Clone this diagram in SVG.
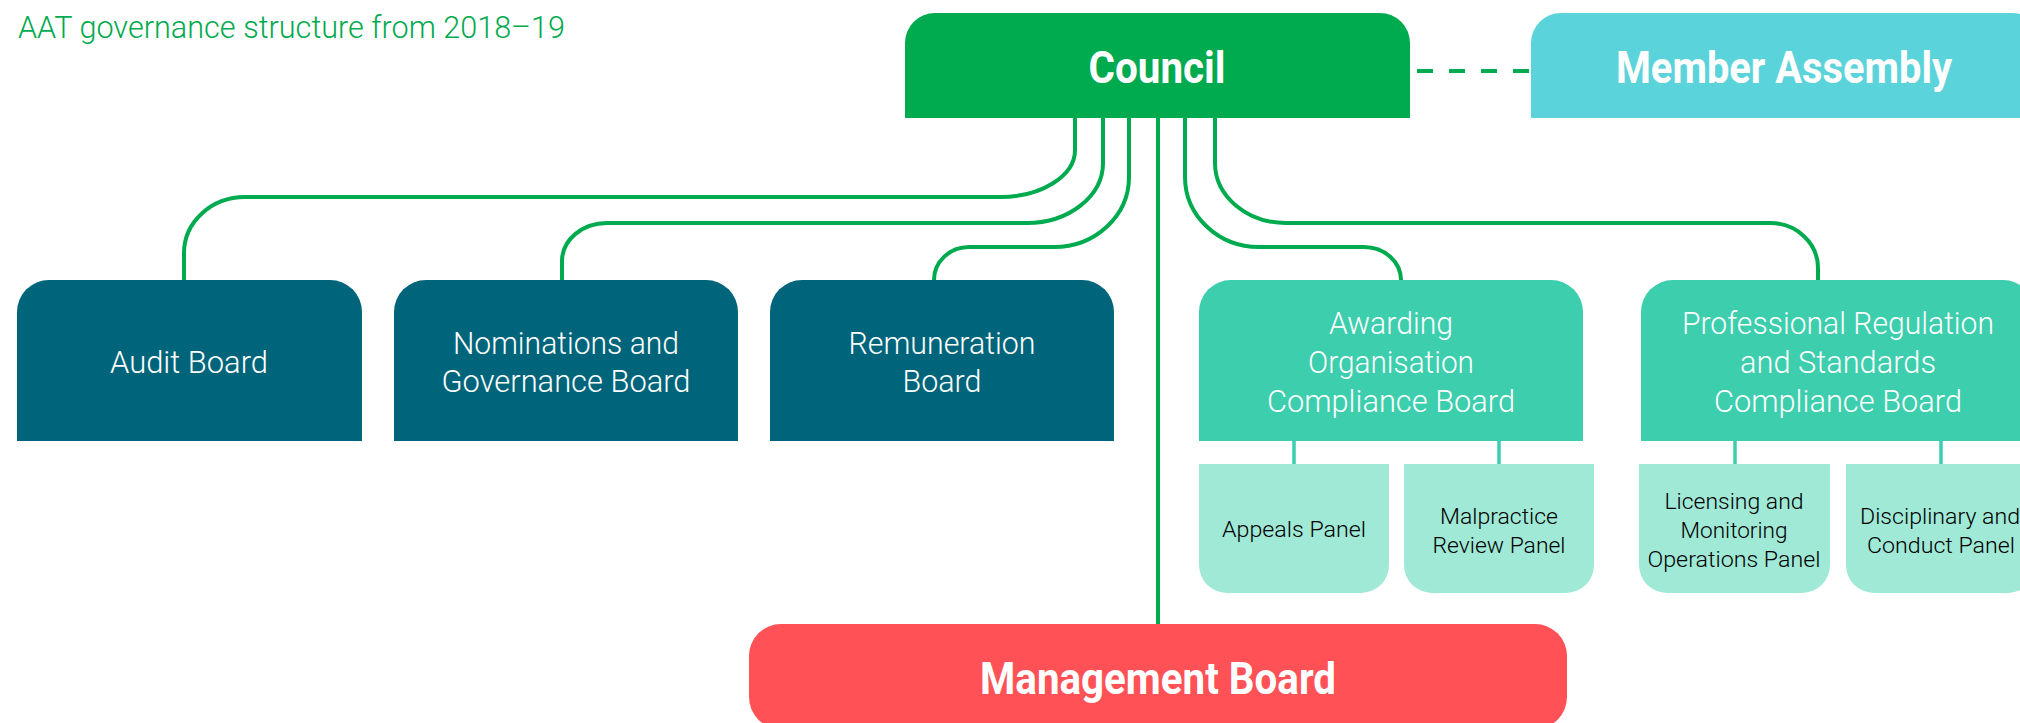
<svg xmlns="http://www.w3.org/2000/svg" width="2020" height="723" viewBox="0 0 2020 723">
  <style>
    .light { font-family: Roboto, "Liberation Sans", sans-serif; font-weight: 300; text-anchor: middle; }
    .bold { font-family: Roboto, "Liberation Sans", sans-serif; font-weight: 700; text-anchor: middle; fill: #ffffff; font-size: 44px; }
    .board { font-size: 31px; fill: #ffffff; }
    .panel { font-size: 22.5px; fill: #000000; }
    .teal { fill: #00657a; }
    .mint { fill: #3ccead; }
    .pale { fill: #9fe9d6; }
    .link { fill: none; stroke: #00aa4e; stroke-width: 4; }
    .sub { fill: none; stroke: #3ccead; stroke-width: 3.5; }
  </style>

  <text class="light" x="18" y="38" style="text-anchor:start" font-size="32" fill="#00aa4e" textLength="547" lengthAdjust="spacingAndGlyphs">AAT governance structure from 2018–19</text>

  <g id="connectors">
    <path class="link" d="M1075,118 V150 A75 47 0 0 1 1000 197 H245 A61 56 0 0 0 184 253 V280"/>
    <path class="link" d="M1103,118 V163 A76 60 0 0 1 1027 223 H607 A45 38 0 0 0 562 261 V280"/>
    <path class="link" d="M1129,118 V177 A75 70 0 0 1 1054 247 H969 A35 33 0 0 0 934 280"/>
    <path class="link" d="M1158,118 V624"/>
    <path class="link" d="M1185,118 V177 A74 70 0 0 0 1259 247 H1364 A37 33 0 0 1 1401 280"/>
    <path class="link" d="M1215,118 V163 A71 60 0 0 0 1286 223 H1770 A48 45 0 0 1 1818 268 V280"/>
    <path class="link" d="M1417,71 H1531" stroke-dasharray="16 16"/>
    <path class="sub" d="M1294,441 V464 M1499,441 V464 M1735,441 V464 M1941,441 V464"/>
  </g>

  <g id="council">
    <path fill="#00aa4e" d="M905,118 V43 A30 30 0 0 1 935 13 H1380 A30 30 0 0 1 1410 43 V118 Z"/>
    <text class="bold" x="1157" y="83" textLength="137" lengthAdjust="spacingAndGlyphs">Council</text>
  </g>

  <g id="member-assembly">
    <path fill="#5bd3db" d="M1531,118 V43 A30 30 0 0 1 1561 13 H2012 A30 30 0 0 1 2042 43 V118 Z"/>
    <text class="bold" x="1784" y="83" textLength="336" lengthAdjust="spacingAndGlyphs">Member Assembly</text>
  </g>

  <g id="audit-board">
    <path class="teal" d="M17,441 V312 A32 32 0 0 1 49 280 H330 A32 32 0 0 1 362 312 V441 Z"/>
    <text class="light board" x="189" y="373" textLength="158" lengthAdjust="spacingAndGlyphs">Audit Board</text>
  </g>

  <g id="nominations-board">
    <path class="teal" d="M394,441 V312 A32 32 0 0 1 426 280 H706 A32 32 0 0 1 738 312 V441 Z"/>
    <text class="light board" x="566" y="354" textLength="226" lengthAdjust="spacingAndGlyphs">Nominations and</text>
    <text class="light board" x="566" y="392" textLength="249" lengthAdjust="spacingAndGlyphs">Governance Board</text>
  </g>

  <g id="remuneration-board">
    <path class="teal" d="M770,441 V312 A32 32 0 0 1 802 280 H1082 A32 32 0 0 1 1114 312 V441 Z"/>
    <text class="light board" x="942" y="354" textLength="187" lengthAdjust="spacingAndGlyphs">Remuneration</text>
    <text class="light board" x="942" y="392" textLength="79" lengthAdjust="spacingAndGlyphs">Board</text>
  </g>

  <g id="awarding-board">
    <path class="mint" d="M1199,441 V312 A32 32 0 0 1 1231 280 H1551 A32 32 0 0 1 1583 312 V441 Z"/>
    <text class="light board" x="1391" y="334" textLength="124" lengthAdjust="spacingAndGlyphs">Awarding</text>
    <text class="light board" x="1391" y="373" textLength="166" lengthAdjust="spacingAndGlyphs">Organisation</text>
    <text class="light board" x="1391" y="412" textLength="248" lengthAdjust="spacingAndGlyphs">Compliance Board</text>
  </g>

  <g id="professional-board">
    <path class="mint" d="M1641,441 V312 A32 32 0 0 1 1673 280 H2003 A32 32 0 0 1 2035 312 V441 Z"/>
    <text class="light board" x="1838" y="334" textLength="312" lengthAdjust="spacingAndGlyphs">Professional Regulation</text>
    <text class="light board" x="1838" y="373" textLength="196" lengthAdjust="spacingAndGlyphs">and Standards</text>
    <text class="light board" x="1838" y="412" textLength="248" lengthAdjust="spacingAndGlyphs">Compliance Board</text>
  </g>

  <g id="appeals-panel">
    <path class="pale" d="M1199,464 H1389 V565 A28 28 0 0 1 1361 593 H1227 A28 28 0 0 1 1199 565 Z"/>
    <text class="light panel" x="1294" y="537" textLength="144" lengthAdjust="spacingAndGlyphs">Appeals Panel</text>
  </g>

  <g id="malpractice-panel">
    <path class="pale" d="M1404,464 H1594 V565 A28 28 0 0 1 1566 593 H1432 A28 28 0 0 1 1404 565 Z"/>
    <text class="light panel" x="1499" y="524" textLength="118" lengthAdjust="spacingAndGlyphs">Malpractice</text>
    <text class="light panel" x="1499" y="553" textLength="133" lengthAdjust="spacingAndGlyphs">Review Panel</text>
  </g>

  <g id="licensing-panel">
    <path class="pale" d="M1639,464 H1830 V565 A28 28 0 0 1 1802 593 H1667 A28 28 0 0 1 1639 565 Z"/>
    <text class="light panel" x="1734" y="509" textLength="139" lengthAdjust="spacingAndGlyphs">Licensing and</text>
    <text class="light panel" x="1734" y="538" textLength="107" lengthAdjust="spacingAndGlyphs">Monitoring</text>
    <text class="light panel" x="1734" y="567" textLength="173" lengthAdjust="spacingAndGlyphs">Operations Panel</text>
  </g>

  <g id="disciplinary-panel">
    <path class="pale" d="M1846,464 H2036 V565 A28 28 0 0 1 2008 593 H1874 A28 28 0 0 1 1846 565 Z"/>
    <text class="light panel" x="1940" y="524" textLength="160" lengthAdjust="spacingAndGlyphs">Disciplinary and</text>
    <text class="light panel" x="1941" y="553" textLength="148" lengthAdjust="spacingAndGlyphs">Conduct Panel</text>
  </g>

  <g id="management-board">
    <rect x="749" y="624" width="818" height="105" rx="32" fill="#ff5156"/>
    <text class="bold" x="1158" y="694" font-size="43" textLength="356" lengthAdjust="spacingAndGlyphs">Management Board</text>
  </g>
</svg>
